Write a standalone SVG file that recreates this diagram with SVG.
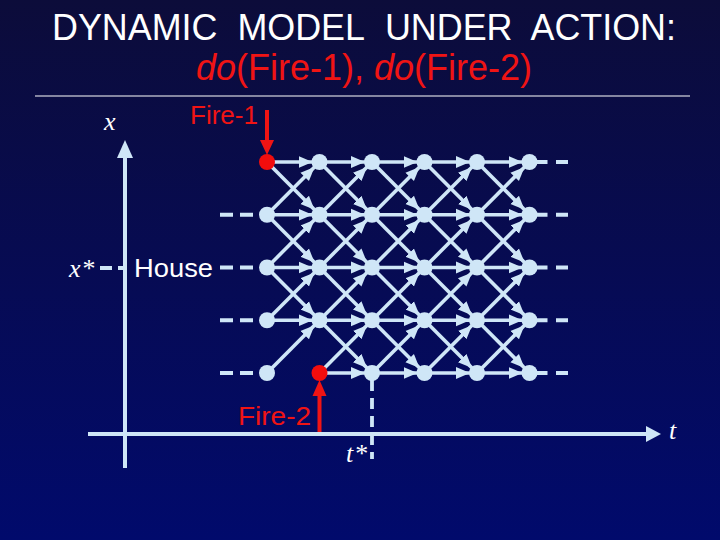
<svg xmlns="http://www.w3.org/2000/svg" width="720" height="540" viewBox="0 0 720 540">
<defs>
<linearGradient id="bg" x1="0" y1="0" x2="0" y2="1">
<stop offset="0" stop-color="#0c0c3a"/>
<stop offset="1" stop-color="#010a6c"/>
</linearGradient>
<marker id="ah" markerUnits="userSpaceOnUse" markerWidth="26" markerHeight="14" viewBox="0 0 26 14" refX="21" refY="7" orient="auto">
<path d="M0,1 L14,7 L0,13 z" fill="#cfe6f7"/>
</marker>
<style>
.e{stroke:#cfe6f7;stroke-width:3.6;marker-end:url(#ah);fill:none}
.d{stroke:#cfe6f7;stroke-width:3.8;fill:none}
.n{fill:#cfe6f7}
.r{fill:#f20d0d}
.sans{font-family:"Liberation Sans",Arial,sans-serif}
.ser{font-family:"Liberation Serif","Times New Roman",serif;font-style:italic}
</style>
</defs>
<rect width="720" height="540" fill="url(#bg)"/>

<g id="title">
<text x="364" y="40" class="sans" font-size="36" fill="#ffffff" text-anchor="middle" textLength="624" lengthAdjust="spacingAndGlyphs">DYNAMIC&#160; MODEL&#160; UNDER&#160; ACTION:</text>
<text x="364" y="80" class="sans" font-size="36" fill="#f01414" text-anchor="middle"><tspan font-style="italic">do</tspan>(Fire-1), <tspan font-style="italic">do</tspan>(Fire-2)</text>
<line x1="35" y1="96" x2="690" y2="96" stroke="#ffffff" stroke-width="1.2"/>
</g>

<g id="axes">
<line x1="125" y1="468" x2="125" y2="155" stroke="#cfe6f7" stroke-width="4"/>
<polygon points="117,158 133,158 125,140" fill="#cfe6f7"/>
<line x1="88" y1="434" x2="648" y2="434" stroke="#cfe6f7" stroke-width="4"/>
<polygon points="646,426 646,442 661,434" fill="#cfe6f7"/>
<text x="104" y="130" class="ser" font-size="26" fill="#ffffff">x</text>
<text x="669" y="439" class="ser" font-size="26" fill="#ffffff">t</text>
<text x="69" y="277" class="ser" font-size="26" fill="#ffffff">x<tspan font-style="normal" dx="2">*</tspan></text>
<text x="346" y="462" class="ser" font-size="26" fill="#ffffff">t<tspan font-style="normal" dx="2">*</tspan></text>
<line x1="100" y1="268" x2="124" y2="268" class="d" stroke-dasharray="12 6"/>
<line x1="372" y1="380" x2="372" y2="459" class="d" stroke-dasharray="11 7"/>
<text x="134" y="277" class="sans" font-size="26" fill="#ffffff" textLength="79" lengthAdjust="spacingAndGlyphs">House</text>
</g>

<g id="connectors">
<line x1="220" y1="214.75" x2="267" y2="214.75" class="d" stroke-dasharray="13 7"/>
<line x1="220" y1="267.5" x2="267" y2="267.5" class="d" stroke-dasharray="13 7"/>
<line x1="220" y1="320.25" x2="267" y2="320.25" class="d" stroke-dasharray="13 7"/>
<line x1="220" y1="373" x2="267" y2="373" class="d" stroke-dasharray="13 7"/>
<line x1="529.5" y1="162" x2="568" y2="162" class="d" stroke-dasharray="18 8.5 12"/>
<line x1="529.5" y1="214.75" x2="568" y2="214.75" class="d" stroke-dasharray="18 8.5 12"/>
<line x1="529.5" y1="267.5" x2="568" y2="267.5" class="d" stroke-dasharray="18 8.5 12"/>
<line x1="529.5" y1="320.25" x2="568" y2="320.25" class="d" stroke-dasharray="18 8.5 12"/>
<line x1="529.5" y1="373" x2="568" y2="373" class="d" stroke-dasharray="18 8.5 12"/>
<line x1="267" y1="162" x2="319.5" y2="162" class="e"/>
<line x1="267" y1="162" x2="319.5" y2="214.75" class="e"/>
<line x1="267" y1="214.75" x2="319.5" y2="162" class="e"/>
<line x1="267" y1="214.75" x2="319.5" y2="214.75" class="e"/>
<line x1="267" y1="214.75" x2="319.5" y2="267.5" class="e"/>
<line x1="267" y1="267.5" x2="319.5" y2="214.75" class="e"/>
<line x1="267" y1="267.5" x2="319.5" y2="267.5" class="e"/>
<line x1="267" y1="267.5" x2="319.5" y2="320.25" class="e"/>
<line x1="267" y1="320.25" x2="319.5" y2="267.5" class="e"/>
<line x1="267" y1="320.25" x2="319.5" y2="320.25" class="e"/>
<line x1="267" y1="373" x2="319.5" y2="320.25" class="e"/>
<line x1="319.5" y1="162" x2="372" y2="162" class="e"/>
<line x1="319.5" y1="162" x2="372" y2="214.75" class="e"/>
<line x1="319.5" y1="214.75" x2="372" y2="162" class="e"/>
<line x1="319.5" y1="214.75" x2="372" y2="214.75" class="e"/>
<line x1="319.5" y1="214.75" x2="372" y2="267.5" class="e"/>
<line x1="319.5" y1="267.5" x2="372" y2="214.75" class="e"/>
<line x1="319.5" y1="267.5" x2="372" y2="267.5" class="e"/>
<line x1="319.5" y1="267.5" x2="372" y2="320.25" class="e"/>
<line x1="319.5" y1="320.25" x2="372" y2="267.5" class="e"/>
<line x1="319.5" y1="320.25" x2="372" y2="320.25" class="e"/>
<line x1="319.5" y1="320.25" x2="372" y2="373" class="e"/>
<line x1="319.5" y1="373" x2="372" y2="320.25" class="e"/>
<line x1="319.5" y1="373" x2="372" y2="373" class="e"/>
<line x1="372" y1="162" x2="424.5" y2="162" class="e"/>
<line x1="372" y1="162" x2="424.5" y2="214.75" class="e"/>
<line x1="372" y1="214.75" x2="424.5" y2="162" class="e"/>
<line x1="372" y1="214.75" x2="424.5" y2="214.75" class="e"/>
<line x1="372" y1="214.75" x2="424.5" y2="267.5" class="e"/>
<line x1="372" y1="267.5" x2="424.5" y2="214.75" class="e"/>
<line x1="372" y1="267.5" x2="424.5" y2="267.5" class="e"/>
<line x1="372" y1="267.5" x2="424.5" y2="320.25" class="e"/>
<line x1="372" y1="320.25" x2="424.5" y2="267.5" class="e"/>
<line x1="372" y1="320.25" x2="424.5" y2="320.25" class="e"/>
<line x1="372" y1="320.25" x2="424.5" y2="373" class="e"/>
<line x1="372" y1="373" x2="424.5" y2="320.25" class="e"/>
<line x1="372" y1="373" x2="424.5" y2="373" class="e"/>
<line x1="424.5" y1="162" x2="477" y2="162" class="e"/>
<line x1="424.5" y1="162" x2="477" y2="214.75" class="e"/>
<line x1="424.5" y1="214.75" x2="477" y2="162" class="e"/>
<line x1="424.5" y1="214.75" x2="477" y2="214.75" class="e"/>
<line x1="424.5" y1="214.75" x2="477" y2="267.5" class="e"/>
<line x1="424.5" y1="267.5" x2="477" y2="214.75" class="e"/>
<line x1="424.5" y1="267.5" x2="477" y2="267.5" class="e"/>
<line x1="424.5" y1="267.5" x2="477" y2="320.25" class="e"/>
<line x1="424.5" y1="320.25" x2="477" y2="267.5" class="e"/>
<line x1="424.5" y1="320.25" x2="477" y2="320.25" class="e"/>
<line x1="424.5" y1="320.25" x2="477" y2="373" class="e"/>
<line x1="424.5" y1="373" x2="477" y2="320.25" class="e"/>
<line x1="424.5" y1="373" x2="477" y2="373" class="e"/>
<line x1="477" y1="162" x2="529.5" y2="162" class="e"/>
<line x1="477" y1="162" x2="529.5" y2="214.75" class="e"/>
<line x1="477" y1="214.75" x2="529.5" y2="162" class="e"/>
<line x1="477" y1="214.75" x2="529.5" y2="214.75" class="e"/>
<line x1="477" y1="214.75" x2="529.5" y2="267.5" class="e"/>
<line x1="477" y1="267.5" x2="529.5" y2="214.75" class="e"/>
<line x1="477" y1="267.5" x2="529.5" y2="267.5" class="e"/>
<line x1="477" y1="267.5" x2="529.5" y2="320.25" class="e"/>
<line x1="477" y1="320.25" x2="529.5" y2="267.5" class="e"/>
<line x1="477" y1="320.25" x2="529.5" y2="320.25" class="e"/>
<line x1="477" y1="320.25" x2="529.5" y2="373" class="e"/>
<line x1="477" y1="373" x2="529.5" y2="320.25" class="e"/>
<line x1="477" y1="373" x2="529.5" y2="373" class="e"/>
</g>

<g id="fire1">
<text x="190" y="124" class="sans" font-size="25" fill="#f01414" textLength="68" lengthAdjust="spacingAndGlyphs">Fire-1</text>
<line x1="267" y1="110" x2="267" y2="142" stroke="#f01414" stroke-width="4"/>
<polygon points="260,140 274,140 267,155" fill="#f01414"/>
</g>
<g id="fire2">
<text x="238" y="425" class="sans" font-size="26" fill="#f01414" textLength="73" lengthAdjust="spacingAndGlyphs">Fire-2</text>
<line x1="319.5" y1="432" x2="319.5" y2="394" stroke="#f01414" stroke-width="4"/>
<polygon points="312.5,396 326.5,396 319.5,380" fill="#f01414"/>
</g>

<g id="n-0-0"><circle cx="267" cy="162" r="8" class="r"/></g>
<g id="n-0-1"><circle cx="267" cy="214.75" r="8" class="n"/></g>
<g id="n-0-2"><circle cx="267" cy="267.5" r="8" class="n"/></g>
<g id="n-0-3"><circle cx="267" cy="320.25" r="8" class="n"/></g>
<g id="n-0-4"><circle cx="267" cy="373" r="8" class="n"/></g>
<g id="n-1-0"><circle cx="319.5" cy="162" r="8" class="n"/></g>
<g id="n-1-1"><circle cx="319.5" cy="214.75" r="8" class="n"/></g>
<g id="n-1-2"><circle cx="319.5" cy="267.5" r="8" class="n"/></g>
<g id="n-1-3"><circle cx="319.5" cy="320.25" r="8" class="n"/></g>
<g id="n-1-4"><circle cx="319.5" cy="373" r="8" class="r"/></g>
<g id="n-2-0"><circle cx="372" cy="162" r="8" class="n"/></g>
<g id="n-2-1"><circle cx="372" cy="214.75" r="8" class="n"/></g>
<g id="n-2-2"><circle cx="372" cy="267.5" r="8" class="n"/></g>
<g id="n-2-3"><circle cx="372" cy="320.25" r="8" class="n"/></g>
<g id="n-2-4"><circle cx="372" cy="373" r="8" class="n"/></g>
<g id="n-3-0"><circle cx="424.5" cy="162" r="8" class="n"/></g>
<g id="n-3-1"><circle cx="424.5" cy="214.75" r="8" class="n"/></g>
<g id="n-3-2"><circle cx="424.5" cy="267.5" r="8" class="n"/></g>
<g id="n-3-3"><circle cx="424.5" cy="320.25" r="8" class="n"/></g>
<g id="n-3-4"><circle cx="424.5" cy="373" r="8" class="n"/></g>
<g id="n-4-0"><circle cx="477" cy="162" r="8" class="n"/></g>
<g id="n-4-1"><circle cx="477" cy="214.75" r="8" class="n"/></g>
<g id="n-4-2"><circle cx="477" cy="267.5" r="8" class="n"/></g>
<g id="n-4-3"><circle cx="477" cy="320.25" r="8" class="n"/></g>
<g id="n-4-4"><circle cx="477" cy="373" r="8" class="n"/></g>
<g id="n-5-0"><circle cx="529.5" cy="162" r="8" class="n"/></g>
<g id="n-5-1"><circle cx="529.5" cy="214.75" r="8" class="n"/></g>
<g id="n-5-2"><circle cx="529.5" cy="267.5" r="8" class="n"/></g>
<g id="n-5-3"><circle cx="529.5" cy="320.25" r="8" class="n"/></g>
<g id="n-5-4"><circle cx="529.5" cy="373" r="8" class="n"/></g>
</svg>
